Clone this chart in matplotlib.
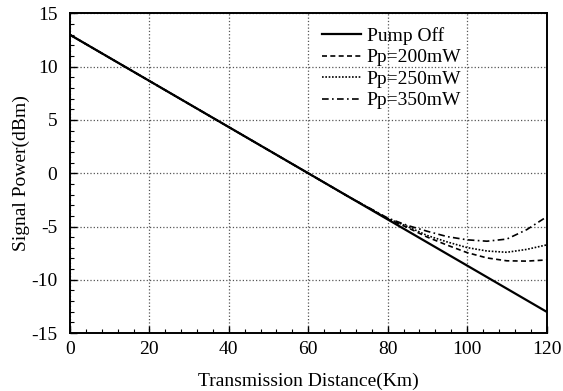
import numpy as np
import matplotlib
matplotlib.use("Agg")
import matplotlib.pyplot as plt
from matplotlib.ticker import MultipleLocator

plt.rcParams['font.family'] = ['Liberation Serif', 'DejaVu Serif']
plt.rcParams['axes.unicode_minus'] = False

# distance (km) and signal power (dBm)
dist_off = [0, 120]
pump_off = [13.0, -13.0]

dist = [0, 60, 70, 75, 80, 85, 90, 95, 100, 105, 110, 115, 120]
pp200 = [13.0, 0.0, -2.17, -3.22, -4.3, -5.1, -6.0, -6.75, -7.45, -7.95, -8.22, -8.25, -8.14]
pp250 = [13.0, 0.0, -2.17, -3.2, -4.25, -5.0, -5.85, -6.45, -6.98, -7.3, -7.42, -7.15, -6.73]
pp350 = [13.0, 0.0, -2.17, -3.18, -4.2, -4.9, -5.45, -5.95, -6.25, -6.38, -6.18, -5.3, -4.1]

labels = ["Pump Off", "Pp=200mW", "Pp=250mW", "Pp=350mW"]

fs = 14

fig = plt.figure(figsize=(5.63, 3.91), dpi=100)
ax = fig.add_axes([0.1243, 0.1483, 0.8464, 0.8172])

ax.plot(dist_off, pump_off, color='black', lw=1.6, ls='-', label=labels[0])
ax.plot(dist, pp200, color='black', lw=1.2, ls=(0, (3, 2)), label=labels[1])
ax.plot(dist, pp250, color='black', lw=1.2, ls=(0, (1, 1)), label=labels[2])
ax.plot(dist, pp350, color='black', lw=1.2, ls=(0, (4, 2, 1, 2)), label=labels[3])

ax.set_xlim(0, 120)
ax.set_ylim(-15, 15)
ax.xaxis.set_major_locator(MultipleLocator(20))
ax.xaxis.set_minor_locator(MultipleLocator(4))
ax.yaxis.set_major_locator(MultipleLocator(5))
ax.yaxis.set_minor_locator(MultipleLocator(1))
ax.tick_params(which='both', direction='in', top=False, right=False, labelsize=fs)
ax.tick_params(axis='x', pad=6)
ax.tick_params(axis='y', pad=9)
ax.tick_params(which='major', length=5, width=1)
ax.tick_params(which='minor', length=3, width=0.8)
ax.grid(True, which='major', ls=':', color='#555555', lw=0.9)
for s in ax.spines.values():
    s.set_linewidth(1.4)

ax.set_xlabel("Transmission Distance(Km)", fontsize=fs, labelpad=10)
ax.set_ylabel("Signal Power(dBm)", fontsize=fs, labelpad=1)

ax.legend(loc='upper left', bbox_to_anchor=(0.5, 1.0), frameon=False, fontsize=fs,
          handlelength=2.0, handletextpad=0.3, labelspacing=0.2, borderaxespad=0.3)

fig.savefig("out.png", dpi=100)
